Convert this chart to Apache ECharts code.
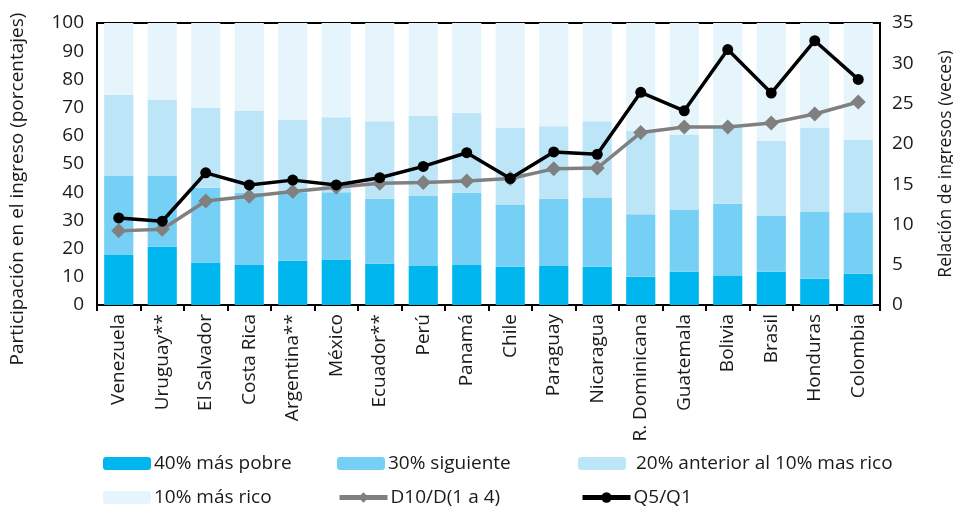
<!DOCTYPE html>
<html>
<head>
<meta charset="utf-8">
<script src="https://cdn.jsdelivr.net/npm/echarts@6/dist/echarts.min.js"></script>
<style>
  html, body { margin: 0; padding: 0; background: #fff; }
  #chart { width: 953px; height: 509px; }
</style>
</head>
<body>
<div id="chart"></div>
<script>
const paises = ['Venezuela', 'Uruguay**', 'El Salvador', 'Costa Rica', 'Argentina**', 'México', 'Ecuador**', 'Perú', 'Panamá', 'Chile', 'Paraguay', 'Nicaragua', 'R. Dominicana', 'Guatemala', 'Bolivia', 'Brasil', 'Honduras', 'Colombia'];

// participación por estrato (porcentajes)
const pobre40 = [17.7, 20.7, 15.1, 14.2, 15.7, 16.1, 14.6, 13.8, 14.2, 13.6, 13.8, 13.6, 10.0, 11.8, 10.5, 11.8, 9.3, 11.1];
const siguiente30 = [28.2, 25.2, 26.5, 25.6, 24.3, 23.9, 23.1, 25.0, 25.6, 22.0, 23.9, 24.3, 22.2, 22.1, 25.4, 19.9, 23.9, 21.8];
const anterior20 = [28.6, 27.0, 28.3, 29.2, 25.6, 26.6, 27.5, 28.2, 28.4, 27.3, 25.7, 27.3, 29.5, 26.6, 27.5, 26.5, 29.7, 25.7];
const rico10 = [25.5, 27.1, 30.1, 31.0, 34.4, 33.4, 34.8, 33.0, 31.8, 37.1, 36.6, 34.8, 38.3, 39.5, 36.6, 41.8, 37.1, 41.4];

// relación de ingresos (veces)
const d10d14 = [9.2, 9.4, 12.9, 13.5, 14.1, 14.6, 15.1, 15.2, 15.4, 15.7, 16.9, 17.0, 21.4, 22.1, 22.1, 22.6, 23.7, 25.2];
const q5q1 = [10.8, 10.4, 16.4, 14.9, 15.5, 14.9, 15.8, 17.2, 18.9, 15.7, 19.0, 18.7, 26.4, 24.1, 31.7, 26.3, 32.8, 28.0];

const ticksIzq = [0, 10, 20, 30, 40, 50, 60, 70, 80, 90, 100];
const ticksDer = [0, 5, 10, 15, 20, 25, 30, 35];

const fuente = '"Open Sans", "Noto Sans", sans-serif';
const colores = ['#00B6EE', '#76D0F6', '#BCE5F8', '#E6F5FC'];

const chart = echarts.init(document.getElementById('chart'));

const legendBase = {
  padding: 0,
  itemWidth: 48,
  itemHeight: 13,
  itemGap: 4,
  lineStyle: { width: 5 },
  textStyle: { fontFamily: fuente, fontSize: 19, color: '#1a1a1a' }
};
const legendas = [
  { name: '40% más pobre', left: 103, top: 454 },
  { name: '30% siguiente', left: 337, top: 454 },
  { name: '20% anterior al 10% mas rico', left: 578, top: 454, pad: 5 },
  { name: '10% más rico', left: 103, top: 488 },
  { name: 'D10/D(1 a 4)', left: 337, top: 488 },
  { name: 'Q5/Q1', left: 580, top: 488 }
].map(l => Object.assign({}, legendBase, {
  data: [l.name], left: l.left, top: l.top,
  textStyle: Object.assign({}, legendBase.textStyle, { padding: [0, 0, 0, l.pad || -2] })
}));

function barra(nombre, datos, i) {
  return {
    name: nombre,
    type: 'bar',
    stack: 'total',
    data: datos,
    barCategoryGap: '33%',
    itemStyle: { color: colores[i] },
    emphasis: { disabled: true }
  };
}

chart.setOption({
  animation: false,
  grid: {
    left: 97, right: 73, top: 23, bottom: 204,
    outerBoundsMode: 'none',
    containLabel: false,
    show: true, borderColor: '#000', borderWidth: 2
  },
  legend: legendas,
  graphic: [{
    type: 'text',
    x: 18,
    y: 189,
    rotation: Math.PI / 2,
    style: {
      text: 'Participación en el ingreso (porcentajes)',
      fontFamily: fuente,
      fontSize: 19,
      fill: '#1a1a1a',
      align: 'center',
      verticalAlign: 'middle'
    }
  }],
  xAxis: {
    type: 'category',
    data: paises,
    axisLine: { lineStyle: { color: '#000', width: 2 } },
    axisTick: { show: true, length: 6, lineStyle: { color: '#000', width: 2 } },
    axisLabel: {
      rotate: 90,
      interval: 0,
      margin: 9,
      fontFamily: fuente,
      fontSize: 19,
      color: '#1a1a1a'
    }
  },
  yAxis: [
    {
      type: 'value',
      min: ticksIzq[0],
      max: ticksIzq[ticksIzq.length - 1],
      interval: 10,
      splitLine: { show: false },
      axisLine: { show: true, lineStyle: { color: '#000', width: 2 } },
      axisTick: { show: false },
      axisLabel: { fontFamily: fuente, fontSize: 19, color: '#1a1a1a', margin: 13 }
    },
    {
      type: 'value',
      min: ticksDer[0],
      max: ticksDer[ticksDer.length - 1],
      interval: 5,
      name: 'Relación de ingresos (veces)',
      nameLocation: 'middle',
      nameGap: 57,
      nameRotate: 90,
      nameTextStyle: { fontFamily: fuente, fontSize: 17.5, color: '#1a1a1a' },
      splitLine: { show: false },
      axisLine: { show: true, lineStyle: { color: '#000', width: 2 } },
      axisTick: { show: false },
      axisLabel: { fontFamily: fuente, fontSize: 19, color: '#1a1a1a', margin: 12 }
    }
  ],
  series: [
    barra('40% más pobre', pobre40, 0),
    barra('30% siguiente', siguiente30, 1),
    barra('20% anterior al 10% mas rico', anterior20, 2),
    barra('10% más rico', rico10, 3),
    {
      name: 'D10/D(1 a 4)',
      type: 'line',
      yAxisIndex: 1,
      data: d10d14,
      symbol: 'diamond',
      symbolSize: 15,
      lineStyle: { color: '#808080', width: 3.5 },
      itemStyle: { color: '#808080' },
      z: 5
    },
    {
      name: 'Q5/Q1',
      type: 'line',
      yAxisIndex: 1,
      data: q5q1,
      symbol: 'circle',
      symbolSize: 11,
      lineStyle: { color: '#000', width: 3.5 },
      itemStyle: { color: '#000' },
      z: 6
    }
  ]
});
</script>
</body>
</html>
